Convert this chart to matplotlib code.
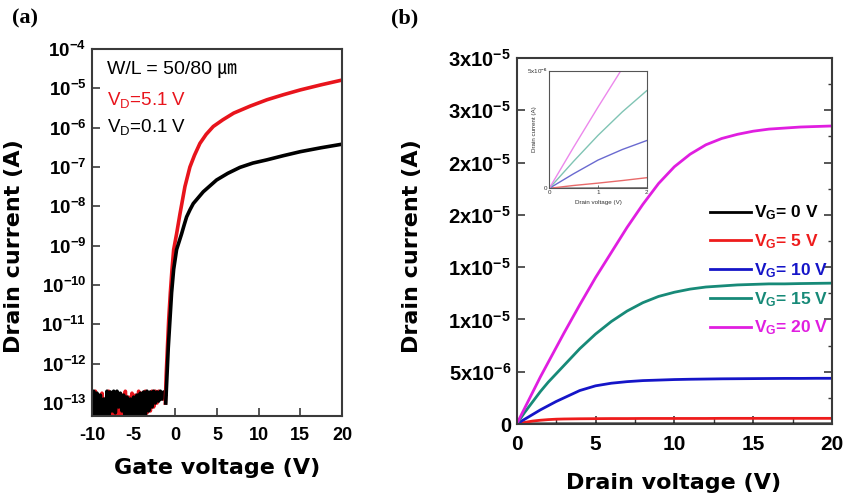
import numpy as np
import matplotlib
matplotlib.use("Agg")
import matplotlib.pyplot as plt
from matplotlib.ticker import FixedLocator, MultipleLocator, LogLocator, NullFormatter
from matplotlib.lines import Line2D

plt.rcParams['font.family'] = ['Liberation Sans', 'Noto Sans CJK KR', 'DejaVu Sans']
plt.rcParams['mathtext.fontset'] = 'custom'
plt.rcParams['mathtext.rm'] = 'Liberation Sans:bold'
plt.rcParams['mathtext.bf'] = 'Liberation Sans:bold'
plt.rcParams['mathtext.it'] = 'Liberation Sans:bold'
plt.rcParams['mathtext.sf'] = 'Liberation Sans'

# ---------------- Panel (a) data: transfer curves (log10 of drain current) ----------------
vg_noise = np.round(np.arange(-10.0, -1.19, 0.2), 2)
red_noise_log = [-12.75, -13.5, -12.7, -13.3, -12.8, -13.6, -12.75, -13.4, -12.9, -13.5,
                 -12.7, -13.45, -12.8, -13.3, -12.75, -13.55, -12.9, -13.4, -12.8, -13.5,
                 -12.7, -13.35, -12.85, -13.6, -12.75, -13.3, -12.8, -13.45, -12.7, -13.4,
                 -12.75, -13.3, -12.7, -13.25, -12.75, -13.2, -12.7, -13.1, -12.7, -13.0,
                 -12.7, -12.9, -12.75, -12.9, -12.8]
black_noise_log = [-13.3, -12.7, -13.6, -12.75, -13.5, -12.8, -13.7, -12.9, -13.45, -12.7,
                   -13.55, -12.72, -13.2, -12.7, -13.25, -12.7, -13.1, -12.75, -13.2, -12.8,
                   -13.5, -12.85, -13.4, -12.9, -13.6, -12.85, -13.5, -12.8, -13.4, -12.75,
                   -13.35, -12.72, -13.3, -12.7, -13.2, -12.72, -13.1, -12.7, -13.0, -12.72,
                   -12.95, -12.7, -12.9, -12.72, -12.8]

red_vg = [-1.2, -1.1, -0.95, -0.8, -0.6, -0.4, -0.2, 0.15, 0.55, 1.15, 1.75, 2.3, 2.95,
          3.7, 4.55, 5.7, 7.0, 9.0, 11.0, 13.0, 15.0, 17.5, 20.0]
red_log = [-13.0, -12.3, -11.6, -10.9, -10.2, -9.6, -9.1, -8.7, -8.2, -7.5, -7.0, -6.7, -6.4,
           -6.17, -5.97, -5.8, -5.63, -5.45, -5.29, -5.16, -5.04, -4.91, -4.79]

black_vg = [-1.15, -1.0, -0.85, -0.65, -0.45, -0.2, 0.15, 0.45, 0.75, 1.05, 1.35, 1.75, 2.15,
            2.75, 3.35, 4.15, 4.95, 6.3, 7.75, 9.3, 10.95, 13.0, 15.0, 17.5, 20.0]
black_log = [-13.0, -12.3, -11.6, -10.9, -10.2, -9.6, -9.1, -8.9, -8.7, -8.48, -8.27, -8.09,
             -7.93, -7.78, -7.63, -7.48, -7.33, -7.16, -7.01, -6.9, -6.82, -6.71, -6.61,
             -6.51, -6.42]

a_yticks_exp = [-13, -12, -11, -10, -9, -8, -7, -6, -5, -4]
a_xticks = [-10, -5, 0, 5, 10, 15, 20]

# ---------------- Panel (b) data: output curves (units of 1e-5 A) ----------------
vd = [0, 0.5, 1, 1.5, 2, 2.5, 3, 4, 5, 6, 7, 8, 9, 10, 11, 12, 13, 14, 15, 16, 17, 18, 19, 20]
id_vg0 = [0, 0.0003, 0.0005, 0.0006, 0.0007, 0.0008, 0.0008, 0.0009, 0.0009, 0.001, 0.001, 0.001,
          0.001, 0.001, 0.001, 0.001, 0.001, 0.001, 0.001, 0.001, 0.001, 0.001, 0.001, 0.001]
id_vg5 = [0, 0.015, 0.028, 0.036, 0.042, 0.046, 0.048, 0.050, 0.051, 0.052, 0.052, 0.053,
          0.053, 0.053, 0.053, 0.053, 0.054, 0.054, 0.054, 0.054, 0.054, 0.054, 0.054, 0.054]
id_vg10 = [0, 0.045, 0.09, 0.135, 0.175, 0.215, 0.25, 0.32, 0.365, 0.39, 0.405, 0.415,
           0.42, 0.425, 0.428, 0.43, 0.432, 0.433, 0.434, 0.435, 0.436, 0.436, 0.437, 0.437]
id_vg15 = [0, 0.11, 0.21, 0.31, 0.40, 0.48, 0.56, 0.72, 0.86, 0.98, 1.08, 1.16, 1.22, 1.26,
           1.29, 1.31, 1.32, 1.33, 1.335, 1.34, 1.34, 1.343, 1.345, 1.347]
id_vg20 = [0, 0.15, 0.30, 0.45, 0.59, 0.73, 0.87, 1.14, 1.40, 1.64, 1.88, 2.10, 2.30, 2.46,
           2.58, 2.67, 2.73, 2.77, 2.80, 2.82, 2.83, 2.84, 2.845, 2.85]
b_yticks = [0, 0.5, 1.0, 1.5, 2.0, 2.5, 3.0, 3.5]
b_yticklabels = ['0', r'5x10$^{-6}$', r'1x10$^{-5}$', r'1x10$^{-5}$', r'2x10$^{-5}$',
                 r'2x10$^{-5}$', r'3x10$^{-5}$', r'3x10$^{-5}$']
b_xticks = [0, 5, 10, 15, 20]
vg_labels = ['0', '5', '10', '15', '20']

# inset (units of 1e-6 A)
vd_in = [0, 0.5, 1.0, 1.5, 2.0]
in_vg0 = [0, 0.005, 0.01, 0.012, 0.015]
in_vg5 = [0, 0.12, 0.22, 0.33, 0.45]
in_vg10 = [0, 0.62, 1.2, 1.65, 2.03]
in_vg15 = [0, 1.15, 2.25, 3.25, 4.15]
in_vg20 = [0, 1.75, 3.45, 5.1, 6.7]

# ---------------- figure ----------------
fig = plt.figure(figsize=(8.45, 5.0), dpi=100)
spine_c = '#3a3a3a'
RED = '#e8141c'
LABEL_FONT = 'DejaVu Sans'

ax = fig.add_axes([92/845, 1-416/500, 250/845, 367/500])
ax.plot(vg_noise, 10**np.array(red_noise_log), color=RED, lw=2.6)
ax.plot(vg_noise, 10**np.array(black_noise_log), color='black', lw=2.6)
ax.plot(red_vg, 10**np.array(red_log), color=RED, lw=2.6)
ax.plot(black_vg, 10**np.array(black_log), color='black', lw=2.6)
ax.set_yscale('log')
ax.set_xlim(-10, 20)
ax.set_ylim(10**-13.33, 1e-4)
ax.yaxis.set_major_locator(FixedLocator([10.0**e for e in a_yticks_exp]))
ax.set_yticklabels([r'$10^{%d}$' % e for e in a_yticks_exp])
ax.yaxis.set_minor_locator(LogLocator(base=10, subs=np.arange(2, 10)))
ax.yaxis.set_minor_formatter(NullFormatter())
ax.set_xticks(a_xticks)
ax.set_xticklabels([str(t) for t in a_xticks])
ax.tick_params(axis='both', which='both', direction='in', colors=spine_c, labelcolor='black')
ax.tick_params(axis='y', which='major', length=6, width=1.2, labelsize=13.5, pad=4)
ax.tick_params(axis='y', which='minor', length=3, width=1.0)
ax.tick_params(axis='x', which='major', length=6, width=1.2, labelsize=13, pad=8)
for lab in ax.get_xticklabels() + ax.get_yticklabels():
    lab.set_fontweight('bold')
for s in ax.spines.values():
    s.set_color(spine_c)
    s.set_linewidth(1.5)

ax.text(0.06, 0.945, 'W/L = 50/80 ㎛', transform=ax.transAxes, fontsize=14, va='center',
        family=['Liberation Sans', 'Noto Sans CJK KR'])
ax.text(0.06, 0.862, r'V$_{\mathsf{D}}$=5.1 V', transform=ax.transAxes, fontsize=13.5,
        va='center', color=RED)
ax.text(0.06, 0.788, r'V$_{\mathsf{D}}$=0.1 V', transform=ax.transAxes, fontsize=13.5,
        va='center', color='black')

fig.text(14/845, 1-246/500, 'Drain current (A)', rotation=90, ha='center', va='center',
         fontsize=16, fontweight='bold', family=LABEL_FONT)
fig.text(217/845, 1-468/500, 'Gate voltage (V)', ha='center', va='center',
         fontsize=16, fontweight='bold', family=LABEL_FONT)
fig.text(12/845, 1-18/500, '(a)', ha='left', va='center', fontsize=16, fontweight='bold',
         family='Liberation Serif')

# ---------------- panel (b) ----------------
bx = fig.add_axes([516.7/845, 1-424/500, 315.3/845, 366/500])
colors = ['black', '#ee1c1c', '#1515c8', '#178a78', '#e01ee0']
series = [id_vg0, id_vg5, id_vg10, id_vg15, id_vg20]
handles = []
for c, s in zip(colors, series):
    bx.plot(vd, np.array(s) * 1e-5, color=c, lw=2.0)
    handles.append(Line2D([], [], color=c, lw=2.0))
bx.set_xlim(0, 20)
bx.set_ylim(0, 3.5e-5)
bx.set_xticks(b_xticks)
bx.set_xticklabels([str(t) for t in b_xticks])
bx.set_yticks([t * 1e-5 for t in b_yticks])
bx.set_yticklabels(b_yticklabels)
bx.xaxis.set_minor_locator(MultipleLocator(2.5))
bx.yaxis.set_minor_locator(MultipleLocator(2.5e-6))
bx.tick_params(axis='both', which='both', direction='in', colors=spine_c, labelcolor='black')
bx.tick_params(axis='y', which='both', right=True)
bx.tick_params(axis='y', which='major', length=6, width=1.2, labelsize=14.5, pad=4)
bx.tick_params(axis='y', which='minor', length=3, width=1.0, left=False)
bx.tick_params(axis='x', which='major', length=6, width=1.2, labelsize=15, pad=8)
bx.tick_params(axis='x', which='minor', length=4, width=1.0)
for lab in bx.get_xticklabels() + bx.get_yticklabels():
    lab.set_fontweight('bold')
for s in bx.spines.values():
    s.set_color(spine_c)
    s.set_linewidth(1.5)

leg_labels = [r'V$_{G}$= %s V' % v for v in vg_labels]
leg = bx.legend(handles, leg_labels, loc='upper left', bbox_to_anchor=(701/845, 1-195/500),
                bbox_transform=fig.transFigure, frameon=False, fontsize=12.5,
                handlelength=2.4, handletextpad=0.15, labelspacing=0.58, borderpad=0)
for t, c in zip(leg.get_texts(), colors):
    t.set_color(c)
    t.set_fontweight('bold')

fig.text(412/845, 1-246/500, 'Drain current (A)', rotation=90, ha='center', va='center',
         fontsize=16, fontweight='bold', family=LABEL_FONT)
fig.text(674/845, 1-483/500, 'Drain voltage (V)', ha='center', va='center',
         fontsize=16, fontweight='bold', family=LABEL_FONT)
fig.text(391/845, 1-18/500, '(b)', ha='left', va='center', fontsize=16, fontweight='bold',
         family='Liberation Serif')

# ---------------- inset ----------------
ix = fig.add_axes([549.3/845, 1-188.3/500, 97.4/845, 117.6/500])
in_colors = ['#555555', '#e86a6a', '#6a6ad0', '#80c4b4', '#ec88ec']
for c, s in zip(in_colors, [in_vg0, in_vg5, in_vg10, in_vg15, in_vg20]):
    ix.plot(vd_in, np.array(s) * 1e-6, color=c, lw=1.0)
ix.set_xlim(0, 2)
ix.set_ylim(0, 5e-6)
ix.set_xticks([0, 1, 2])
ix.set_xticklabels(['0', '1', '2'])
ix.set_yticks([0, 5e-6])
ix.set_yticklabels(['0', r'5x10$^{-6}$'])
ix.tick_params(axis='both', direction='in', length=2, width=0.6, labelsize=4.5, pad=1.5,
               colors='#555555', labelcolor='#333333')
for s in ix.spines.values():
    s.set_color('#555555')
    s.set_linewidth(0.8)
ix.set_xlabel('Drain voltage (V)', fontsize=4.5, labelpad=3, color='#333333')
ix.set_ylabel('Drain current (A)', fontsize=4.5, labelpad=-7, color='#333333')

fig.savefig('out.png', dpi=100)
